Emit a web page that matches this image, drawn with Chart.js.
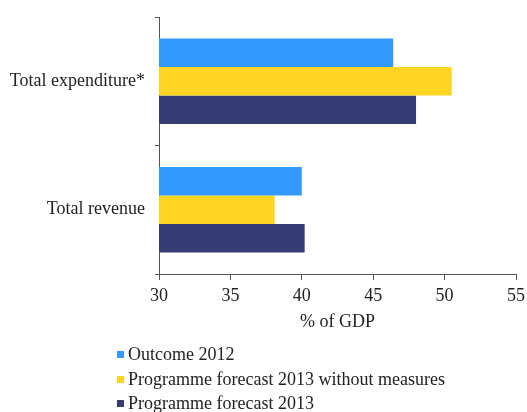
<!DOCTYPE html>
<html>
<head>
<meta charset="utf-8">
<script src="https://cdn.jsdelivr.net/npm/chart.js@4/dist/chart.umd.min.js"></script>
<style>
  html, body { margin: 0; padding: 0; background: #fff; }
  #wrap { position: relative; width: 527px; height: 412px; overflow: hidden; }
  #chart { position: absolute; left: 0; top: 0; }
  #legend {
    position: absolute; left: 117px; top: 342px;
    font-family: "Liberation Serif", "DejaVu Serif", serif;
    font-size: 18px; color: #222; line-height: 24.5px;
  }
  #legend .item { display: flex; align-items: center; white-space: nowrap; }
  #legend .box { width: 7px; height: 7px; margin-right: 4px; margin-top: 1px; }
</style>
</head>
<body>
<div id="wrap">
  <canvas id="chart" width="527" height="412"></canvas>
  <div id="legend"></div>
</div>
<script>
// General government balance components, % of GDP
const categories = ['Total expenditure*', 'Total revenue'];
const outcome2012 = [46.4, 40.0];
const forecastNoMeasures = [50.5, 38.1];
const forecast2013 = [48.0, 40.2];
const seriesNames = ['Outcome 2012', 'Programme forecast 2013 without measures', 'Programme forecast 2013'];
const xTicks = [30, 35, 40, 45, 50, 55];
const axisTitle = '% of GDP';

const colors = ['#3399fe', '#ffd523', '#363c74'];
const serif = '"Liberation Serif", "DejaVu Serif", serif';
const axisColor = '#555';

const datasets = [outcome2012, forecastNoMeasures, forecast2013].map((vals, i) => ({
  label: seriesNames[i],
  data: vals,
  backgroundColor: colors[i],
  borderWidth: 0,
  categoryPercentage: 0.665,
  barPercentage: 1.0
}));

const chart = new Chart(document.getElementById('chart'), {
  type: 'bar',
  data: { labels: categories, datasets },
  options: {
    indexAxis: 'y',
    responsive: false,
    animation: false,
    devicePixelRatio: 1,
    layout: { padding: { top: 17, right: 11, bottom: 78, left: 0 } },
    plugins: { legend: { display: false }, tooltip: { enabled: false } },
    scales: {
      x: {
        min: xTicks[0],
        max: xTicks[xTicks.length - 1],
        afterBuildTicks: (scale) => { scale.ticks = xTicks.map(v => ({ value: v })); },
        afterFit: (scale) => { scale.height = 60; scale.paddingLeft = 0; scale.paddingRight = 0; },
        border: { display: true, color: axisColor, width: 1 },
        grid: { drawOnChartArea: false, drawTicks: true, tickLength: 6, color: axisColor },
        ticks: { padding: 5.5, color: '#222', font: { family: serif, size: 18 } },
        title: { display: true, text: axisTitle, color: '#222', padding: { top: 2, bottom: 1.2 },
                 font: { family: serif, size: 18 } }
      },
      y: {
        type: 'category',
        offset: true,
        afterFit: (scale) => { scale.width = 159; scale.paddingTop = 0; scale.paddingBottom = 0; },
        border: { display: true, color: axisColor, width: 1 },
        grid: { offset: true, drawOnChartArea: false, drawTicks: true, tickLength: 4, color: axisColor },
        ticks: { padding: 10, color: '#222', font: { family: serif, size: 18 } }
      }
    }
  }
});

// Legend rows below the chart, one per series
const legend = document.getElementById('legend');
chart.data.datasets.forEach(ds => {
  const row = document.createElement('div');
  row.className = 'item';
  const box = document.createElement('span');
  box.className = 'box';
  box.style.background = ds.backgroundColor;
  const txt = document.createElement('span');
  txt.textContent = ds.label;
  row.appendChild(box);
  row.appendChild(txt);
  legend.appendChild(row);
});
</script>
</body>
</html>
